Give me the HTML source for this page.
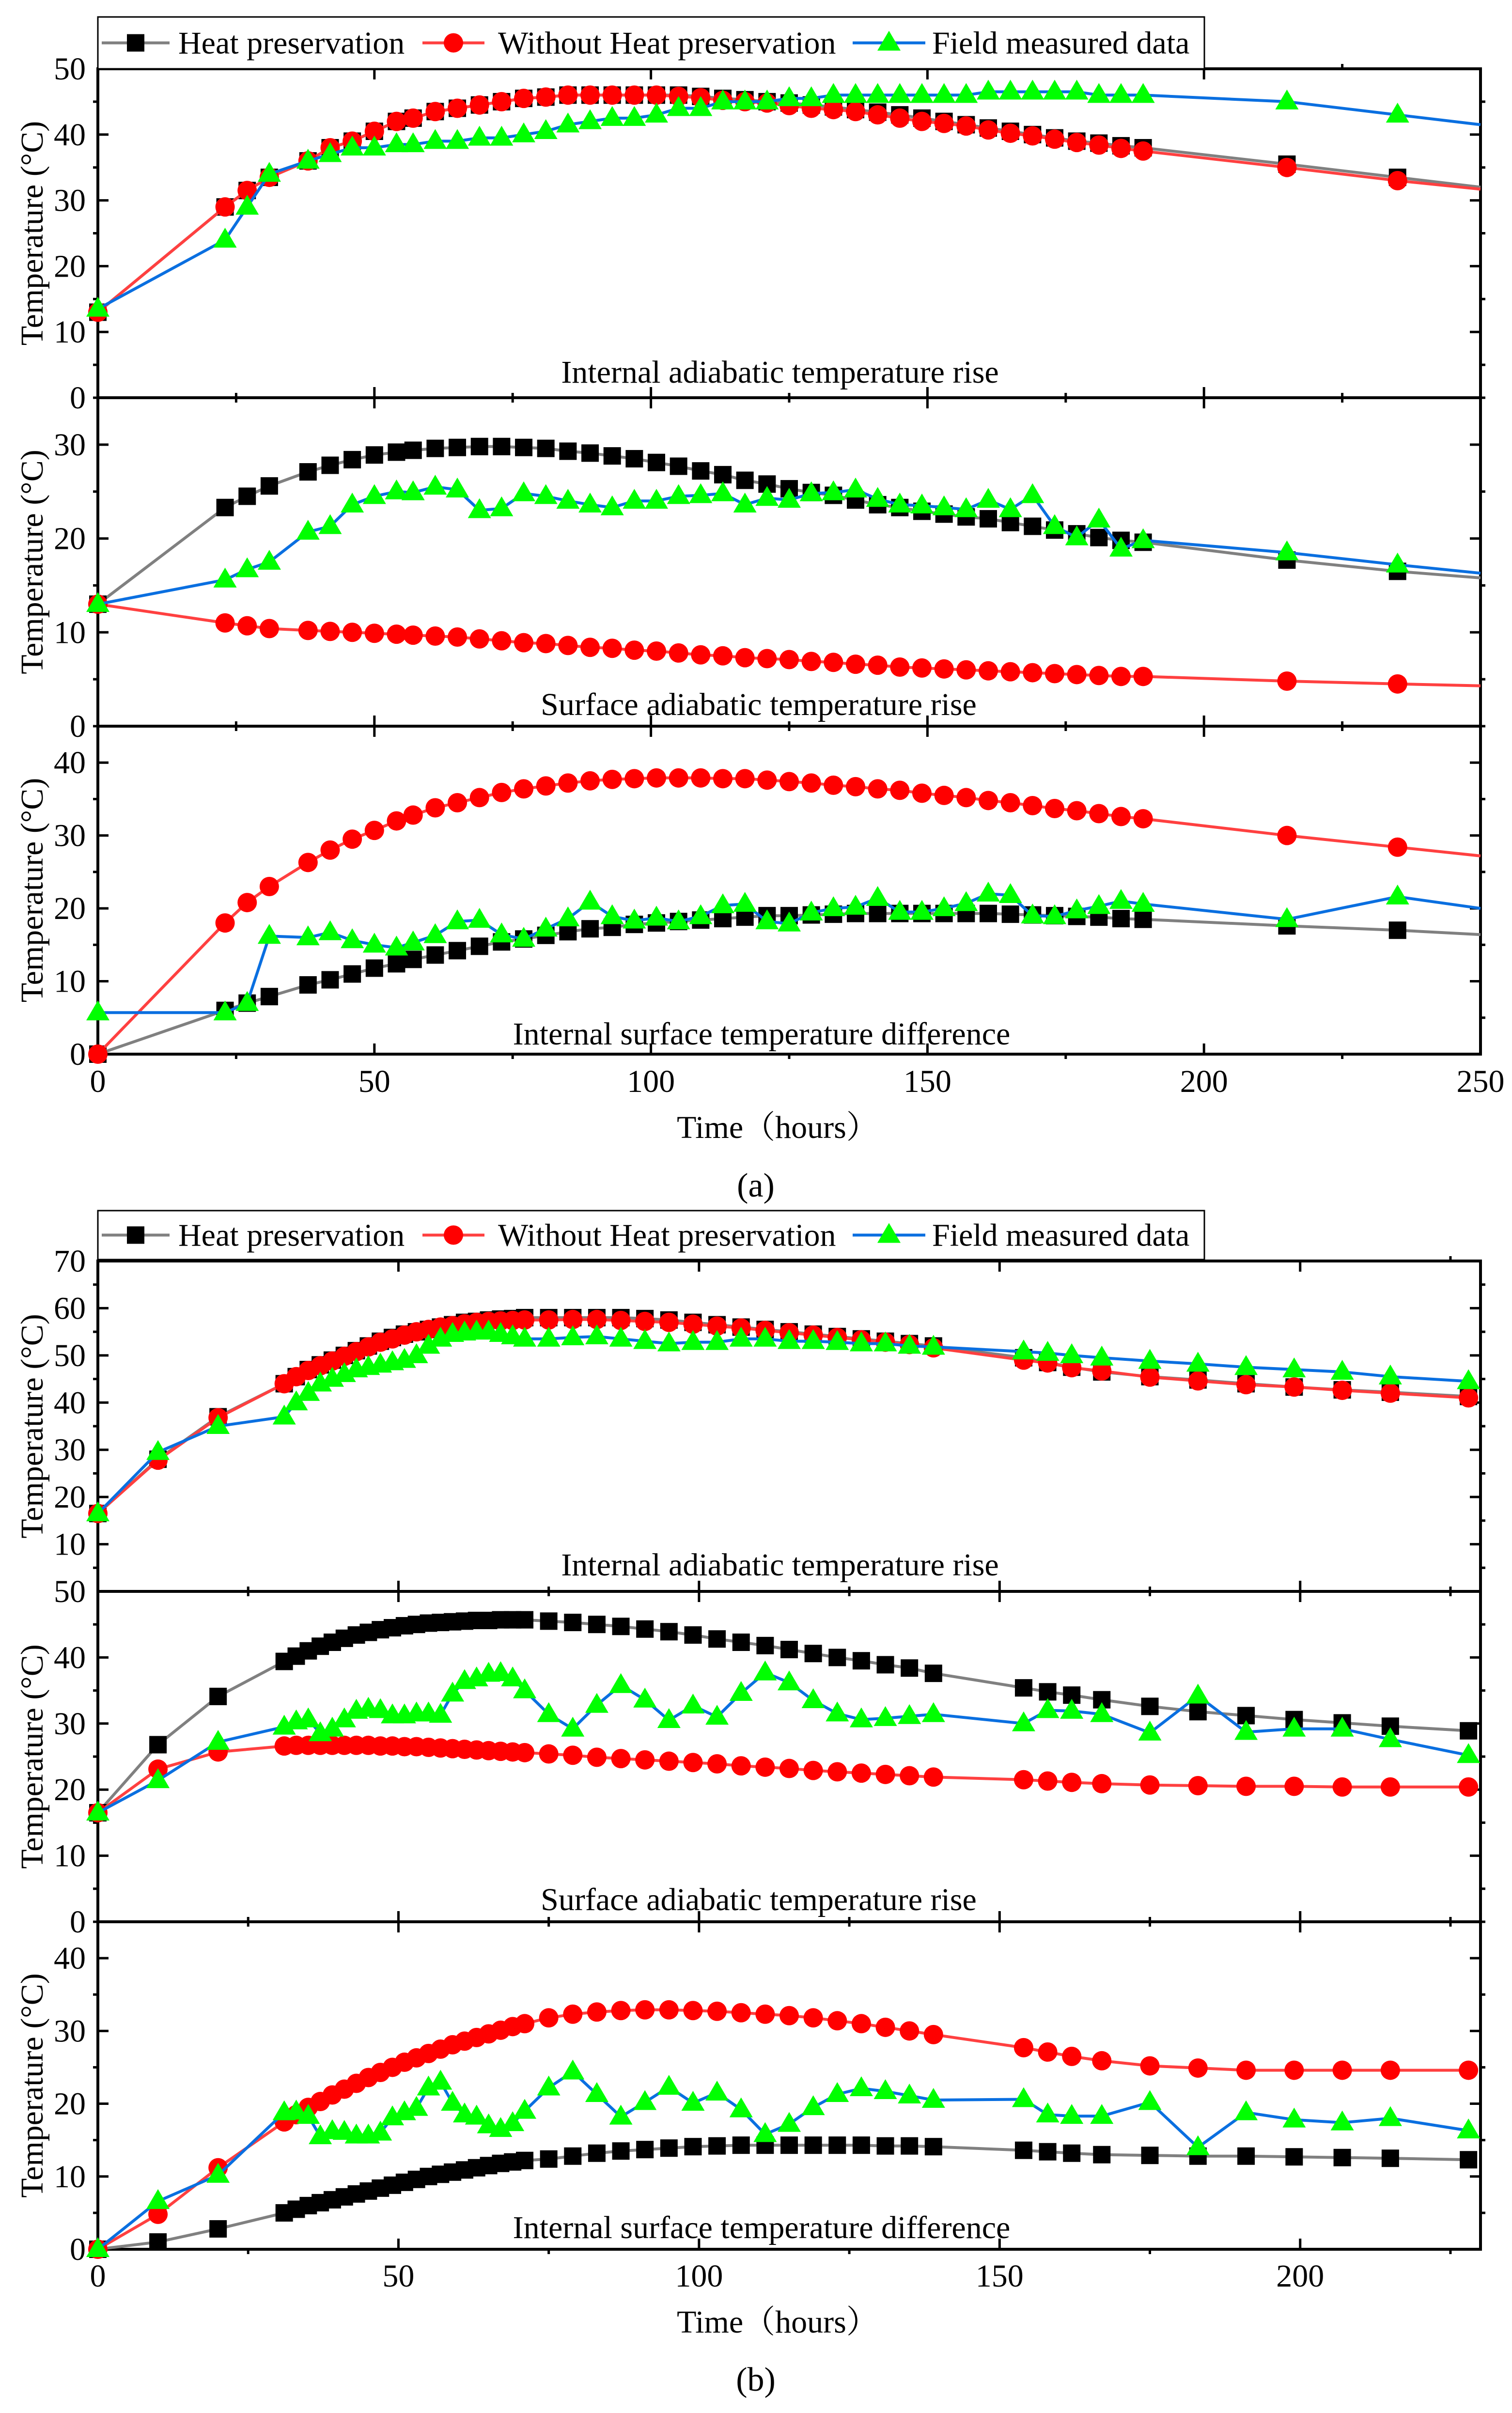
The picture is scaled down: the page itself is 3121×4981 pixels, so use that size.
<!DOCTYPE html>
<html><head><meta charset="utf-8">
<style>
html,body{margin:0;padding:0;background:#fff;}
svg{display:block;}
text{font-family:"Liberation Serif","Noto Serif CJK SC",serif;fill:#000;}
</style></head>
<body>
<svg id="chart" xmlns="http://www.w3.org/2000/svg" width="3121" height="4981" viewBox="0 0 3121 4981">
<g id="root"></g>
</svg>
<script>
// ===== Figure (a) data =====
const xA = [0,23,27,31,38,42,46,50,54,57,61,65,69,73,77,81,85,89,93,97,101,105,109,113,117,121,125,129,133,137,141,145,149,153,157,161,165,169,173,177,181,185,189,215,235,250];
const a1Heat = [13,29,31.5,33.5,36,38,39,40.5,42,42.5,43.5,44,44.5,45,45.5,45.7,46,46,46,46,46,46,45.8,45.5,45.3,45,44.8,44.5,44.2,43.8,43.4,43,42.5,42,41.5,41,40.5,40,39.5,39,38.7,38.3,38,35.5,33.5,32];
const a1NoHeat = [13,29,31.5,33.5,36,38,39,40.5,42,42.5,43.5,44,44.5,45,45.5,45.7,46,46,46,46,46,45.8,45.6,45.2,45,44.8,44.4,44,43.8,43.5,43,42.5,42,41.7,41.3,40.7,40.2,39.8,39.3,38.8,38.4,37.9,37.5,35,33,31.7];
const a1Field = [13.5,24,29,34,36,37,38,38,38.5,38.5,39,39,39.5,39.5,40,40.5,41.5,42,42.5,42.5,43,44,44,45,45,45,45.5,45.5,46,46,46,46,46,46,46,46.5,46.5,46.5,46.5,46.5,46,46,46,45,43,41.5];
const a2Heat = [13,23.3,24.5,25.6,27.1,27.8,28.4,28.9,29.2,29.4,29.6,29.7,29.8,29.8,29.7,29.6,29.3,29.1,28.8,28.5,28.1,27.7,27.2,26.8,26.2,25.8,25.3,24.9,24.6,24.1,23.6,23.3,22.9,22.6,22.3,22.1,21.7,21.3,20.9,20.5,20.1,19.8,19.6,17.7,16.5,15.8];
const a2NoHeat = [13,11,10.7,10.4,10.2,10.1,10,9.9,9.8,9.7,9.6,9.5,9.3,9.1,8.9,8.8,8.6,8.4,8.3,8.1,8,7.8,7.6,7.5,7.3,7.2,7.1,6.9,6.8,6.6,6.5,6.3,6.2,6.1,6,5.9,5.8,5.7,5.6,5.5,5.4,5.3,5.3,4.8,4.5,4.3];
const a2Field = [13,15.6,16.7,17.5,20.7,21.3,23.6,24.5,25,24.9,25.5,25.2,23,23.2,24.8,24.5,24,23.6,23.3,24,24,24.5,24.6,24.8,23.6,24.3,24.1,24.8,24.9,25.2,24.2,23.6,23.5,23.3,23.1,24.1,23.1,24.6,21.3,20.1,22,18.9,19.8,18.5,17.2,16.3];
const a3Heat = [0,6,7,7.9,9.5,10.2,11,11.8,12.4,13,13.6,14.2,14.8,15.4,15.8,16.3,16.8,17.2,17.4,17.8,18,18.2,18.4,18.6,18.8,19,19,19.1,19.2,19.3,19.3,19.3,19.3,19.3,19.3,19.3,19.2,19.1,19,18.9,18.8,18.6,18.5,17.6,17,16.4];
const a3NoHeat = [0,18,20.8,23,26.3,28,29.5,30.7,32,32.8,33.8,34.5,35.2,35.9,36.4,36.8,37.2,37.5,37.7,37.8,37.9,37.9,37.9,37.8,37.8,37.6,37.4,37.2,36.9,36.7,36.4,36.2,35.8,35.5,35.2,34.8,34.5,34.1,33.7,33.4,33,32.6,32.3,30,28.4,27.2];
const a3Field = [5.7,5.7,7,16.2,16,16.7,15.6,15,14.6,15.3,16.3,18.2,18.4,16.4,15.8,17.2,18.6,20.9,18.9,18.3,18.7,18.2,18.9,20.4,20.6,18.2,17.9,19.4,20,20.2,21.4,19.5,19.5,20,20.7,22,21.8,19,18.9,19.7,20.3,21,20.6,18.5,21.6,20];

// ===== Figure (b) data =====
const xB = [0,10,20,31,33,35,37,39,41,43,45,47,49,51,53,55,57,59,61,63,65,67,69,71,75,79,83,87,91,95,99,103,107,111,115,119,123,127,131,135,139,154,158,162,167,175,183,191,199,207,215,228];
const b1Heat = [16.5,28,37,44,45.5,47,48,49,50,51,52,53,53.8,54.5,55,55.5,56,56.5,57,57.2,57.5,57.7,57.8,58,58,58,58,58,57.8,57.5,57,56.5,56,55.5,55,54.5,54,53.5,53,52.5,52,49.5,48.5,47.5,46.5,45.5,44.8,44,43.3,42.7,42.2,41.3];
const b1NoHeat = [16.5,27.8,36.8,44,45.5,46.8,47.8,48.8,49.8,50.8,51.8,52.8,53.5,54.3,55,55.5,56,56.3,56.7,57,57.2,57.3,57.4,57.5,57.5,57.6,57.6,57.4,57.2,57,56.6,56.2,55.8,55.3,54.8,54.3,53.8,53.3,52.8,52.3,51.6,49,48.4,47.4,46.7,45.4,44.6,43.8,43.3,42.6,42,41];
const b1Field = [16.5,29.5,35,37,40,42,44,45,46,47,47.5,48,48.5,49,50,52,53.5,54.5,54.8,55,55,54.5,54,53.5,53.5,53.8,54,53.5,53,52.5,52.8,52.8,53.5,53.5,53,53,52.8,52.5,52.5,52,51.8,50.8,50.5,50,49.5,48.8,48.2,47.5,47,46.5,45.5,44.5];
const b2Heat = [16.5,26.8,34.1,39.4,40.2,41.0,41.7,42.3,42.9,43.4,43.8,44.2,44.5,44.8,45.0,45.2,45.3,45.4,45.5,45.6,45.6,45.7,45.7,45.7,45.5,45.3,45.0,44.7,44.3,43.9,43.4,42.8,42.3,41.8,41.2,40.6,40.0,39.5,38.9,38.4,37.6,35.4,34.8,34.3,33.6,32.6,31.8,31.2,30.6,30.1,29.6,28.9];
const b2NoHeat = [16.5,23.1,25.7,26.6,26.7,26.7,26.7,26.7,26.7,26.7,26.7,26.6,26.6,26.5,26.5,26.4,26.3,26.2,26.1,26.0,25.9,25.8,25.7,25.6,25.4,25.2,24.9,24.7,24.5,24.3,24.1,23.9,23.6,23.4,23.2,22.9,22.7,22.5,22.3,22.1,21.9,21.5,21.3,21.1,20.9,20.7,20.6,20.5,20.5,20.4,20.4,20.4];
const b2Field = [16.5,21.4,27.2,29.5,30.3,30.6,28.5,29.2,30.6,31.9,32.2,32,31.2,31.2,31.5,31.5,31.3,34.5,36.4,36.8,37.5,37.6,36.8,35.0,31.4,29.2,32.8,35.8,33.6,30.5,32.7,31.0,34.6,37.7,36.2,33.5,31.5,30.6,30.8,31.1,31.4,30.0,32.0,31.9,31.4,28.6,34.2,28.7,29.2,29.2,27.6,25.2];
const b3Heat = [0,1.0,2.8,5.0,5.5,6.0,6.4,6.8,7.2,7.6,8.0,8.4,8.8,9.2,9.6,10.0,10.3,10.6,10.9,11.2,11.5,11.8,12.0,12.2,12.4,12.8,13.2,13.5,13.7,13.9,14.1,14.2,14.3,14.3,14.3,14.3,14.3,14.3,14.2,14.2,14.1,13.6,13.4,13.2,13.0,12.9,12.8,12.8,12.7,12.6,12.5,12.3];
const b3NoHeat = [0,4.8,11.2,17.5,18.5,19.5,20.3,21.2,22.0,22.8,23.6,24.3,25.0,25.7,26.3,26.9,27.5,28.1,28.6,29.1,29.6,30.1,30.6,31.0,31.8,32.3,32.6,32.8,32.9,32.9,32.8,32.7,32.5,32.3,32.1,31.8,31.4,31.0,30.5,30.0,29.5,27.7,27.1,26.5,25.9,25.2,24.9,24.6,24.6,24.6,24.6,24.6];
const b3Field = [0,6.6,10.2,18.8,18.9,18.3,15.5,16.2,16.1,15.6,15.6,16,18.1,18.8,19.4,22.2,23.0,20.1,18.5,18.2,17.0,16.5,17.3,19.0,22.2,24.4,21.3,18.2,20.2,22.3,20.1,21.5,19.2,15.8,17.2,19.5,21.3,22.1,21.7,21.1,20.5,20.6,18.5,18.3,18.3,20.2,14.0,18.8,17.8,17.4,18.0,16.3];

// tick labels
const xTicksA = [0,50,100,150,200,250];
const xTicksB = [0,50,100,150,200];
const yTicks50 = [0,10,20,30,40,50];
const yTicks30 = [0,10,20,30];
const yTicks40 = [0,10,20,30,40];
const yTicks70 = [10,20,30,40,50,60,70];

const NS = 'http://www.w3.org/2000/svg';
const root = document.getElementById('root');
function mk(tag, attrs, parent){
  const e = document.createElementNS(NS, tag);
  for (const k in attrs) e.setAttribute(k, attrs[k]);
  (parent||root).appendChild(e);
  return e;
}
const L = 202, R = 3056;

function panel(cfg){
  const g = mk('g', {});
  
  
  const sx = v => L + (v - cfg.xmin) / (cfg.xmax - cfg.xmin) * (R - L);
  const sy = v => cfg.bot - (v - cfg.ymin) / (cfg.ymax - cfg.ymin) * (cfg.bot - cfg.top);
  // ticks
  for (let v = 0; v <= cfg.xmax + 1e-6; v += 25){
    const major = (v % 50) === 0;
    const x = sx(v);
    if (major){
      mk('line', {x1:x, y1:cfg.bot, x2:x, y2:cfg.bot-22, stroke:'#000','stroke-width':5}, g);
      mk('line', {x1:x, y1:cfg.top, x2:x, y2:cfg.top+22, stroke:'#000','stroke-width':5}, g);
    } else {
      mk('line', {x1:x, y1:cfg.bot, x2:x, y2:cfg.bot+10, stroke:'#000','stroke-width':5}, g);
      mk('line', {x1:x, y1:cfg.top, x2:x, y2:cfg.top-10, stroke:'#000','stroke-width':5}, g);
    }
  }
  for (let v = cfg.ymin; v <= cfg.ymax + 1e-6; v += 5){
    const major = (v % 10) === 0;
    const y = sy(v);
    if (major){
      mk('line', {x1:L, y1:y, x2:L+22, y2:y, stroke:'#000','stroke-width':5}, g);
      mk('line', {x1:R, y1:y, x2:R-22, y2:y, stroke:'#000','stroke-width':5}, g);
    } else {
      mk('line', {x1:L, y1:y, x2:L-10, y2:y, stroke:'#000','stroke-width':5}, g);
      mk('line', {x1:R, y1:y, x2:R+10, y2:y, stroke:'#000','stroke-width':5}, g);
    }
  }
  cfg.yTicks.forEach(v => {
    const t = mk('text', {x:177, y:sy(v)+22, 'text-anchor':'end','font-size':66}, g);
    
    
    t.textContent = v;
  });
  // frame
  const fr = mk('rect', {x:L, y:cfg.top, width:R-L, height:cfg.bot-cfg.top, fill:'none', stroke:'#000','stroke-width':6}, g);
  
  
  // y title
  const cy = (cfg.top + cfg.bot)/2;
  const yt = mk('text', {x:0, y:0, 'text-anchor':'middle','font-size':66, transform:`translate(88,${cy}) rotate(-90)`}, g);
  
  
  yt.textContent = 'Temperature (°C)';
  // annotation
  const an = mk('text', {x:cfg.annX, y:cfg.annY, 'text-anchor':'middle','font-size':66}, g);
  
  
  an.textContent = cfg.ann;
  // series
  const series = [
    {vals:cfg.heat, line:'#808080', kind:'sq', name:'heat-preservation-series'},
    {vals:cfg.noheat, line:'#ff4040', kind:'ci', name:'without-heat-preservation-series'},
    {vals:cfg.field, line:'#0a6fe0', kind:'tr', name:'field-measured-series'}
  ];
  series.forEach(s => {
    const sg = mk('g', {}, g);
    
    
    const n = Math.min(cfg.xs.length, s.vals.length);
    let d = '';
    for (let i = 0; i < n; i++) d += (i ? 'L' : 'M') + sx(cfg.xs[i]).toFixed(1) + ',' + sy(s.vals[i]).toFixed(1);
    const p = mk('path', {d:d, fill:'none', stroke:s.line, 'stroke-width':6, 'stroke-linejoin':'round'}, sg);
    
    
    for (let i = 0; i < n; i++){
      if (cfg.noMarkX !== undefined && cfg.xs[i] === cfg.noMarkX) continue;
      const x = sx(cfg.xs[i]), y = sy(s.vals[i]);
      let m;
      if (s.kind === 'sq') m = mk('rect', {x:x-18, y:y-18, width:36, height:36, fill:'#000'}, sg);
      else if (s.kind === 'ci') m = mk('circle', {cx:x, cy:y, r:20, fill:'#ff0000'}, sg);
      else m = mk('polygon', {points:`${x},${y-25} ${x-24},${y+16} ${x+24},${y+16}`, fill:'#00ff00'}, sg);
      
      
    }
  });
  return {sx, sy};
}

function xaxis(xs, ticks, bot, labelY, titleY, capY, cap, xmax){
  const sx = v => L + v / xmax * (R - L);
  ticks.forEach(v => {
    const t = mk('text', {x:sx(v), y:labelY, 'text-anchor':'middle','font-size':66});
    
    
    t.textContent = v;
  });
  const tt = mk('text', {x:1605, y:titleY, 'text-anchor':'middle','font-size':66});
  
  
  tt.textContent = 'Time（hours）';
  const c = mk('text', {x:1560, y:capY, 'text-anchor':'middle','font-size':70});
  
  
  c.textContent = cap;
}

function legend(top, bottom, name){
  const g = mk('g', {});
  
  
  mk('rect', {x:202, y:top, width:2284, height:bottom-top, fill:'#fff', stroke:'#000','stroke-width':3}, g);
  const cy = (top+bottom)/2;
  const items = [
    {x1:210,x2:350,mx:280,tx:368,line:'#808080',kind:'sq',label:'Heat preservation'},
    {x1:872,x2:1000,mx:936,tx:1028,line:'#ff4040',kind:'ci',label:'Without Heat preservation'},
    {x1:1760,x2:1910,mx:1835,tx:1924,line:'#0a6fe0',kind:'tr',label:'Field measured data'}
  ];
  items.forEach(it => {
    const e = mk('g', {}, g);
    
    
    mk('line', {x1:it.x1, y1:cy, x2:it.x2, y2:cy, stroke:it.line, 'stroke-width':6}, e);
    if (it.kind === 'sq') mk('rect', {x:it.mx-18, y:cy-18, width:36, height:36, fill:'#000'}, e);
    else if (it.kind === 'ci') mk('circle', {cx:it.mx, cy:cy, r:20, fill:'#ff0000'}, e);
    else mk('polygon', {points:`${it.mx},${cy-25} ${it.mx-24},${cy+16} ${it.mx+24},${cy+16}`, fill:'#00ff00'}, e);
    const t = mk('text', {x:it.tx, y:cy+22, 'font-size':66}, e);
    t.textContent = it.label;
  });
}

// Figure (a)
panel({name:'panel-a-internal', xs:xA, xmin:0, xmax:250, ymin:0, ymax:50, top:142, bot:821, yTicks:yTicks50,
  heat:a1Heat, noheat:a1NoHeat, field:a1Field, ann:'Internal adiabatic temperature rise', annX:1610, annY:790, noMarkX:250});
panel({name:'panel-a-surface', xs:xA, xmin:0, xmax:250, ymin:0, ymax:35, top:821, bot:1499, yTicks:yTicks30,
  heat:a2Heat, noheat:a2NoHeat, field:a2Field, ann:'Surface adiabatic temperature rise', annX:1566, annY:1476, noMarkX:250});
panel({name:'panel-a-difference', xs:xA, xmin:0, xmax:250, ymin:0, ymax:45, top:1499, bot:2176, yTicks:yTicks40,
  heat:a3Heat, noheat:a3NoHeat, field:a3Field, ann:'Internal surface temperature difference', annX:1572, annY:2156, noMarkX:250});
xaxis(xA, xTicksA, 2176, 2254, 2349, 2470, '(a)', 250);
legend(35, 142, 'legend-a');

// Figure (b)
panel({name:'panel-b-internal', xs:xB, xmin:0, xmax:230, ymin:0, ymax:70, top:2603, bot:3285, yTicks:yTicks70,
  heat:b1Heat, noheat:b1NoHeat, field:b1Field, ann:'Internal adiabatic temperature rise', annX:1610, annY:3252});
panel({name:'panel-b-surface', xs:xB, xmin:0, xmax:230, ymin:0, ymax:50, top:3285, bot:3967, yTicks:yTicks50,
  heat:b2Heat, noheat:b2NoHeat, field:b2Field, ann:'Surface adiabatic temperature rise', annX:1566, annY:3943});
panel({name:'panel-b-difference', xs:xB, xmin:0, xmax:230, ymin:0, ymax:45, top:3967, bot:4643, yTicks:yTicks40,
  heat:b3Heat, noheat:b3NoHeat, field:b3Field, ann:'Internal surface temperature difference', annX:1572, annY:4620});
xaxis(xB, xTicksB, 4643, 4720, 4815, 4935, '(b)', 230);
legend(2499, 2600, 'legend-b');
</script>
</body></html>
